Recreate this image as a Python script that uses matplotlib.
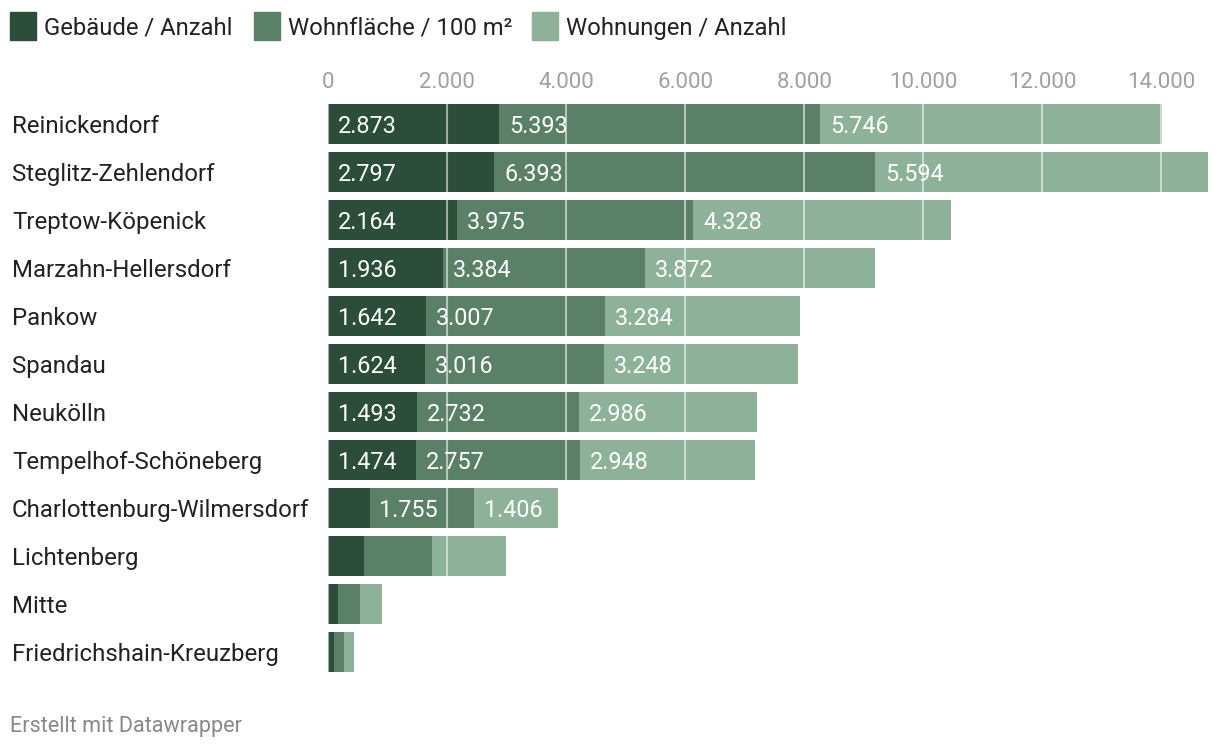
import matplotlib
matplotlib.use("Agg")
import matplotlib.pyplot as plt
import matplotlib.transforms as mtransforms
from matplotlib.patches import Rectangle
from matplotlib.ticker import FuncFormatter
import numpy as np

plt.rcParams['font.family'] = ['Roboto', 'DejaVu Sans']

bezirke = ["Reinickendorf", "Steglitz-Zehlendorf", "Treptow-Köpenick",
           "Marzahn-Hellersdorf", "Pankow", "Spandau", "Neukölln",
           "Tempelhof-Schöneberg", "Charlottenburg-Wilmersdorf", "Lichtenberg",
           "Mitte", "Friedrichshain-Kreuzberg"]
gebaeude = [2873, 2797, 2164, 1936, 1642, 1624, 1493, 1474, 700, 600, 165, 95]
wohnflaeche = [5393, 6393, 3975, 3384, 3007, 3016, 2732, 2757, 1755, 1143, 370, 168]
wohnungen = [5746, 5594, 4328, 3872, 3284, 3248, 2986, 2948, 1406, 1244, 370, 168]

series_names = ["Gebäude / Anzahl", "Wohnfläche / 100 m²", "Wohnungen / Anzahl"]
colors = ["#2c4d3a", "#5a8067", "#8db199"]
ticks = [0, 2000, 4000, 6000, 8000, 10000, 12000, 14000]


def de_num(v, pos=None):
    return f"{int(v):,}".replace(",", ".")


W, H = 1220, 750
fig = plt.figure(figsize=(W / 100, H / 100), dpi=100)
ax = fig.add_axes([328 / W, 1 - 676 / H, (1208 - 328) / W, 576 / H])

data = np.array([gebaeude, wohnflaeche, wohnungen])
totals = data.sum(axis=0)
y = np.arange(len(bezirke))

left = np.zeros(len(bezirke))
for k in range(3):
    ax.barh(y, data[k], left=left, height=0.83, color=colors[k], zorder=1)
    for i in range(len(bezirke)):
        if data[k][i] > 1300:
            ax.annotate(de_num(data[k][i]), (left[i], y[i]), xytext=(7, 0),
                        textcoords="offset points", va="center_baseline",
                        ha="left", color="white", fontsize=16.8, zorder=3)
    left += data[k]

for t in ticks:
    ax.axvline(t, color="white", alpha=0.55, lw=1.5, zorder=2)

ax.set_xlim(0, totals.max())
ax.set_ylim(len(bezirke) - 0.5, -0.5)
ax.set_xticks(ticks)
ax.xaxis.set_major_formatter(FuncFormatter(de_num))
ax.xaxis.tick_top()
ax.tick_params(axis="x", length=0, pad=5, labelsize=16, labelcolor="#a0a0a0")
ax.set_yticks([])
for s in ax.spines.values():
    s.set_visible(False)

# category labels, left aligned at the figure edge
trans = mtransforms.blended_transform_factory(fig.transFigure, ax.transData)
for i, name in enumerate(bezirke):
    ax.text(12 / W, i, name, transform=trans, ha="left",
            va="center_baseline", fontsize=17.3, color="#222222")

# legend
lx = [10, 254, 532]
for k in range(3):
    fig.patches.append(Rectangle((lx[k] / W, 1 - 40 / H), 26 / W, 28 / H,
                                 transform=fig.transFigure, color=colors[k]))
    fig.text((lx[k] + 34) / W, 1 - 26 / H, series_names[k], ha="left",
             va="center_baseline", fontsize=17.2, color="#222222")

fig.text(10 / W, 1 - 724 / H, "Erstellt mit Datawrapper", ha="left",
         va="center_baseline", fontsize=15.6, color="#888888")

fig.savefig("out.png", dpi=100)
